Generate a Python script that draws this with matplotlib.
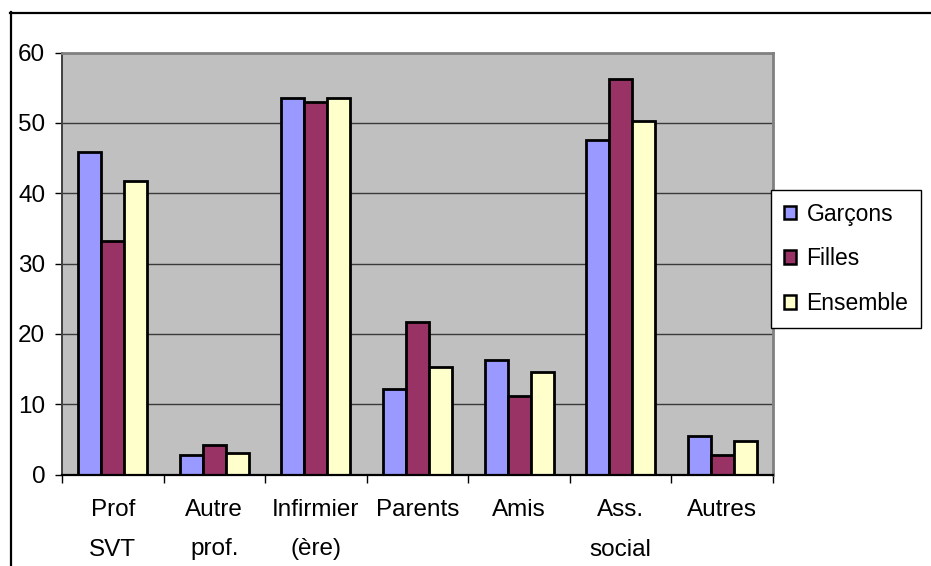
import matplotlib
matplotlib.use("Agg")
import matplotlib.pyplot as plt
from matplotlib.lines import Line2D
import numpy as np

categories = ["Prof\nSVT", "Autre\nprof.", "Infirmier\n(ère)", "Parents", "Amis", "Ass.\nsocial", "Autres"]
series_names = ["Garçons", "Filles", "Ensemble"]
garcons = [45.8, 2.8, 53.6, 12.2, 16.3, 47.5, 5.5]
filles = [33.2, 4.2, 53.0, 21.7, 11.2, 56.3, 2.8]
ensemble = [41.7, 3.1, 53.5, 15.3, 14.6, 50.2, 4.8]
yticks = [0, 10, 20, 30, 40, 50, 60]

colors = ["#9999FF", "#993366", "#FFFFCC"]

plt.rcParams["font.family"] = ["Liberation Sans", "DejaVu Sans"]
W, H = 931, 566
fig = plt.figure(figsize=(W / 100, H / 100), dpi=100)
fig.patch.set_facecolor("white")

# plot area in pixel coordinates
left, right, top, bottom = 62, 773, 52.5, 474.5
ax = fig.add_axes([left / W, 1 - bottom / H, (right - left) / W, (bottom - top) / H])
ax.set_facecolor("#C0C0C0")

x = np.arange(len(categories))
bw = 0.226
for i, (vals, name, c) in enumerate(zip([garcons, filles, ensemble], series_names, colors)):
    ax.bar(x + (i - 1) * bw, vals, width=bw, color=c, edgecolor="black",
           linewidth=2.0, label=name, zorder=3)

ax.set_xlim(-0.5, len(categories) - 0.5)
ax.set_ylim(0, 60)
ax.set_yticks(yticks)
for y in yticks[1:-1]:
    ax.axhline(y, color="#3a3a3a", linewidth=1.0, zorder=1)

# category labels centred, tick marks at category boundaries
ax.set_xticks(x)
ax.set_xticklabels(categories, fontsize=17.5, linespacing=2.0)
ax.set_xticks(np.arange(-0.5, len(categories) + 0.5, 1), minor=True)
ax.tick_params(axis="x", which="major", length=0, pad=18)
ax.tick_params(axis="x", which="minor", length=5.5, width=1.0, color="black", direction="out")
ax.tick_params(axis="y", length=5, width=1.0, color="black", direction="out", pad=7, labelsize=17.5)

ax.spines["bottom"].set_color("black")
ax.spines["bottom"].set_linewidth(1.6)
ax.spines["left"].set_color("#404040")
ax.spines["left"].set_linewidth(1.4)
ax.spines["top"].set_color("#808080")
ax.spines["top"].set_linewidth(2.0)
ax.spines["right"].set_color("#808080")
ax.spines["right"].set_linewidth(2.0)
for s in ax.spines.values():
    s.set_zorder(4)

leg = fig.legend(loc="upper left", bbox_to_anchor=(771 / W, 1 - 190 / H),
                 bbox_transform=fig.transFigure, fontsize=16.5, frameon=True,
                 fancybox=False, shadow=False, borderpad=0.55, labelspacing=0.95,
                 handlelength=0.55, handleheight=0.55, handletextpad=0.45,
                 borderaxespad=0)
leg.get_frame().set_edgecolor("black")
leg.get_frame().set_linewidth(1.0)
leg.get_frame().set_facecolor("white")
leg.get_frame().set_alpha(1)
for p in leg.get_patches():
    p.set_linewidth(1.8)

# outer frame (left and top edges)
fig.add_artist(Line2D([11 / W, 11 / W], [0, 1 - 12 / H], color="black", linewidth=1.6,
                      transform=fig.transFigure))
fig.add_artist(Line2D([10 / W, 1], [1 - 12.5 / H, 1 - 12.5 / H], color="black", linewidth=1.6,
                      transform=fig.transFigure))

fig.savefig("out.png", dpi=100)
